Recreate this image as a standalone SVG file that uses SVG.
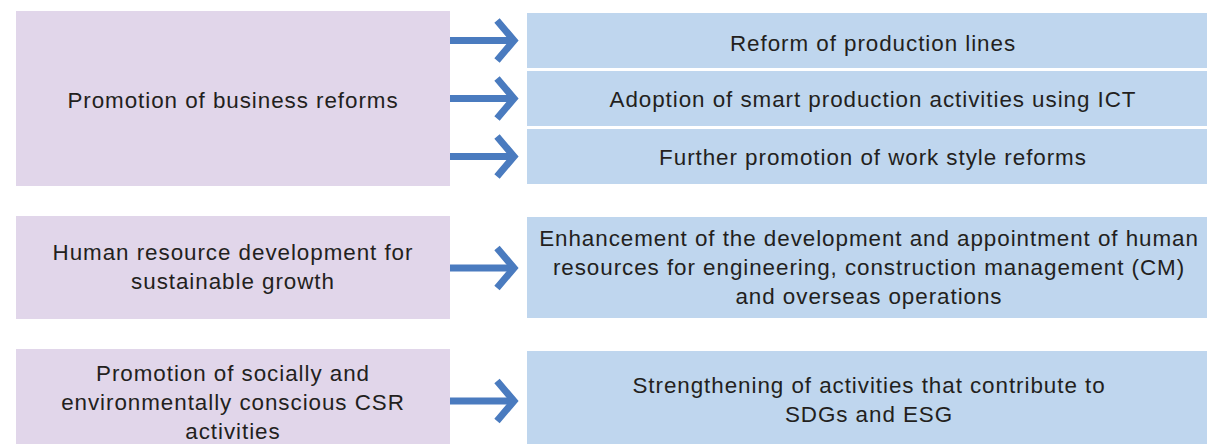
<svg xmlns="http://www.w3.org/2000/svg" width="1207" height="444" viewBox="0 0 1207 444">
  <style>
    .goal { fill: #e1d6ea; }
    .measure { fill: #bfd6ee; }
    text { font-family: "Liberation Sans", Arial, sans-serif; font-size: 22.4px; fill: #231f20; text-anchor: middle; letter-spacing: 0.95px; }
    .arrow { fill: none; stroke: #4a7bbf; stroke-width: 7; }
  </style>
  <defs>
    <g id="arrowShape">
      <line class="arrow" x1="450" y1="0" x2="513" y2="0"/>
      <polyline class="arrow" points="497,-20 514,0 497,20" stroke-miterlimit="10"/>
    </g>
  </defs>
  <rect width="1207" height="444" fill="#ffffff"/>

  <g id="goal-business-reforms">
    <rect class="goal" x="16" y="11" width="434" height="175"/>
    <text x="233" y="108">Promotion of business reforms</text>
  </g>
  <g id="measure-production-lines">
    <rect class="measure" x="527" y="13" width="680" height="55"/>
    <text x="873" y="51">Reform of production lines</text>
  </g>
  <g id="measure-smart-production">
    <rect class="measure" x="527" y="71" width="680" height="55"/>
    <text x="873" y="107">Adoption of smart production activities using ICT</text>
  </g>
  <g id="measure-work-style">
    <rect class="measure" x="527" y="129" width="680" height="55"/>
    <text x="873" y="165">Further promotion of work style reforms</text>
  </g>

  <g id="goal-human-resources">
    <rect class="goal" x="16" y="216" width="434" height="103"/>
    <text x="233" y="260">Human resource development for</text>
    <text x="233" y="289">sustainable growth</text>
  </g>
  <g id="measure-human-resources">
    <rect class="measure" x="527" y="217" width="680" height="101"/>
    <text x="869" y="246">Enhancement of the development and appointment of human</text>
    <text x="869" y="275">resources for engineering, construction management (CM)</text>
    <text x="869" y="304">and overseas operations</text>
  </g>

  <g id="goal-csr">
    <rect class="goal" x="16" y="349" width="434" height="95"/>
    <text x="233" y="381">Promotion of socially and</text>
    <text x="233" y="410">environmentally conscious CSR</text>
    <text x="233" y="439">activities</text>
  </g>
  <g id="measure-sdgs">
    <rect class="measure" x="527" y="351" width="680" height="93"/>
    <text x="869" y="393">Strengthening of activities that contribute to</text>
    <text x="869" y="422">SDGs and ESG</text>
  </g>

  <g id="connectors">
    <use href="#arrowShape" y="40.5"/>
    <use href="#arrowShape" y="98.5"/>
    <use href="#arrowShape" y="156.5"/>
    <use href="#arrowShape" y="268"/>
    <use href="#arrowShape" y="401"/>
  </g>
</svg>
